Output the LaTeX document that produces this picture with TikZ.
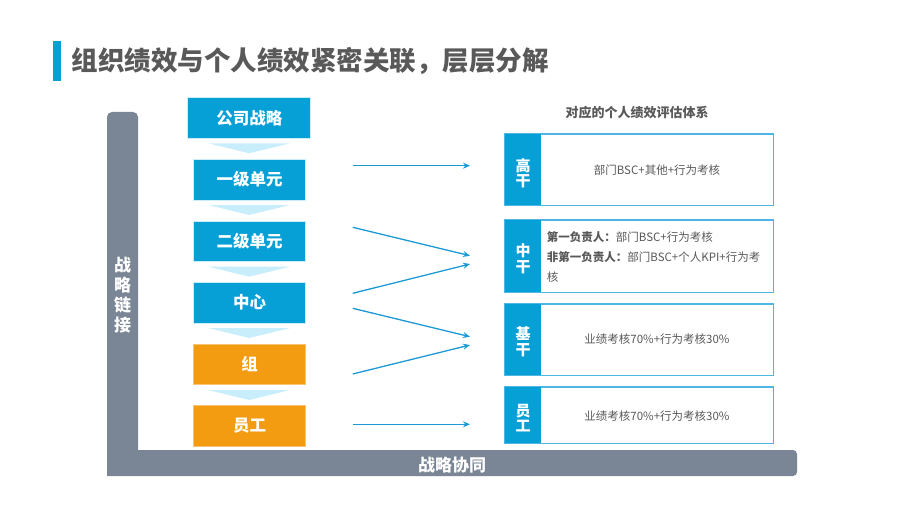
\documentclass[tikz,border=0pt]{standalone}
\usepackage{fontspec}
\setmainfont{Noto Sans CJK SC}
\usetikzlibrary{arrows.meta}
\definecolor{mblue}{HTML}{069FD6}
\definecolor{morange}{HTML}{F39C12}
\definecolor{mgray}{HTML}{7A8595}
\definecolor{tgray}{HTML}{595959}
\definecolor{tri}{HTML}{C9EEFB}
\definecolor{lblue}{HTML}{4FB6E3}
\definecolor{arr}{HTML}{1B9AD6}
\tikzset{
  lvl/.style={draw=tri, line width=0.8pt, fill=mblue, text=white,
    font=\fontsize{16.5}{18}\selectfont\bfseries, minimum width=112.4pt,
    minimum height=40.7pt, inner sep=0pt},
  lvlo/.style={lvl, fill=morange, draw=morange!60},
  chev/.style={fill=tri},
  evalbox/.style={draw=lblue, line width=1pt, minimum width=268pt, inner sep=0pt},
  tab/.style={fill=mblue, text=white, inner sep=0pt, align=center,
    font=\fontsize{15}{15.5}\selectfont\bfseries},
  evtext/.style={text=tgray, font=\fontsize{11.5}{13}\selectfont, inner sep=0pt},
  link/.style={draw=arr, line width=1.3pt, -{Stealth[length=7pt,width=6pt]}},
  bartext/.style={text=white, font=\fontsize{17}{20}\selectfont\bfseries, align=center, inner sep=0pt}
}
\begin{document}
\begin{tikzpicture}[x=1pt,y=-1pt]
\useasboundingbox (0,0) rectangle (903,511);
\fill[white] (0,0) rectangle (903,511);
% title
\fill[mblue] (52.7,40.7) rectangle (60.7,80.7);
\node[anchor=west, text=tgray, inner sep=0pt, font=\fontsize{26.5}{30}\selectfont\bfseries] (title) at (71.5,61) {组织绩效与个人绩效紧密关联，层层分解};
% gray L bar
\fill[mgray] (107,476) [rounded corners=5pt] -- (107,112) -- (138,112) [sharp corners] -- (138,450) [rounded corners=4pt] -- (797,450) -- (797,476) [sharp corners] -- cycle;
\node[bartext] (lnk) at (122.5,295) {战\\略\\链\\接};
\node[bartext] (syn) at (452,465) {战略协同};
% hierarchy boxes
\node[lvl, minimum width=123pt] (gs) at (249.3,118) {公司战略};
\node[lvl] (l1) at (249.5,179.6) {一级单元};
\node[lvl] (l2) at (249.5,241.4) {二级单元};
\node[lvl] (zx) at (249.5,302.7) {中心};
\node[lvlo] (zu) at (249.5,364.3) {组};
\node[lvlo] (yg) at (249.5,426) {员工};
% chevrons
\foreach \y in {143.3,205,266.7,328,390}{
  \fill[chev] (208.3,\y) -- (290,\y) -- (249.2,\y+10) -- cycle;
}
% header
\node[text=tgray, font=\fontsize{13}{15}\selectfont\bfseries, inner sep=0pt] (hdr) at (637,113) {对应的个人绩效评估体系};
% evaluation boxes
\node[evalbox, minimum height=71pt] (gg) at (639,169.8) {};
\node[evalbox, minimum height=72pt] (zg) at (639,256) {};
\node[evalbox, minimum height=71pt] (jg) at (639,339.5) {};
\node[evalbox, minimum height=56pt] (yb) at (639,415.3) {};
\fill[mblue] (gg.north west) rectangle ([xshift=36pt]gg.south west);
\fill[mblue] (zg.north west) rectangle ([xshift=36pt]zg.south west);
\fill[mblue] (jg.north west) rectangle ([xshift=36pt]jg.south west);
\fill[mblue] (yb.north west) rectangle ([xshift=36pt]yb.south west);
\draw[lblue, line width=1pt] (gg.north west) rectangle (gg.south east);
\draw[lblue, line width=1pt] (zg.north west) rectangle (zg.south east);
\draw[lblue, line width=1pt] (jg.north west) rectangle (jg.south east);
\draw[lblue, line width=1pt] (yb.north west) rectangle (yb.south east);
\node[tab] (tgg) at (523,173) {高\\干};
\node[tab] (tzg) at (523,259) {中\\干};
\node[tab] (tjg) at (523,342) {基\\干};
\node[tab] (tyb) at (523,418) {员\\工};
\node[evtext] (xgg) at (657,170) {部门BSC+其他+行为考核};
\node[evtext, anchor=west, align=left, font=\fontsize{11.5}{20}\selectfont] (xzg) at (546.7,257) {\textbf{第一负责人：}部门BSC+行为考核\\\textbf{非第一负责人：}部门BSC+个人KPI+行为考\\核};
\node[evtext] (xjg) at (657,339) {业绩考核70\%+行为考核30\%};
\node[evtext] (xyb) at (657,416) {业绩考核70\%+行为考核30\%};
% connectors
\coordinate (s1) at (352.7,165.7); \coordinate (e1) at (470,165.7);
\coordinate (s2) at (352.7,227.3); \coordinate (e2) at (470,255.7);
\coordinate (s3) at (352.7,293.3); \coordinate (e3) at (470,264);
\coordinate (s4) at (352.7,308.3); \coordinate (e4) at (470,336.7);
\coordinate (s5) at (352.7,374);   \coordinate (e5) at (470,345);
\coordinate (s6) at (352.7,424.3); \coordinate (e6) at (470,424.3);
\foreach \i in {1,...,6}{ \draw[link] (s\i) -- (e\i); }
\end{tikzpicture}
\end{document}
